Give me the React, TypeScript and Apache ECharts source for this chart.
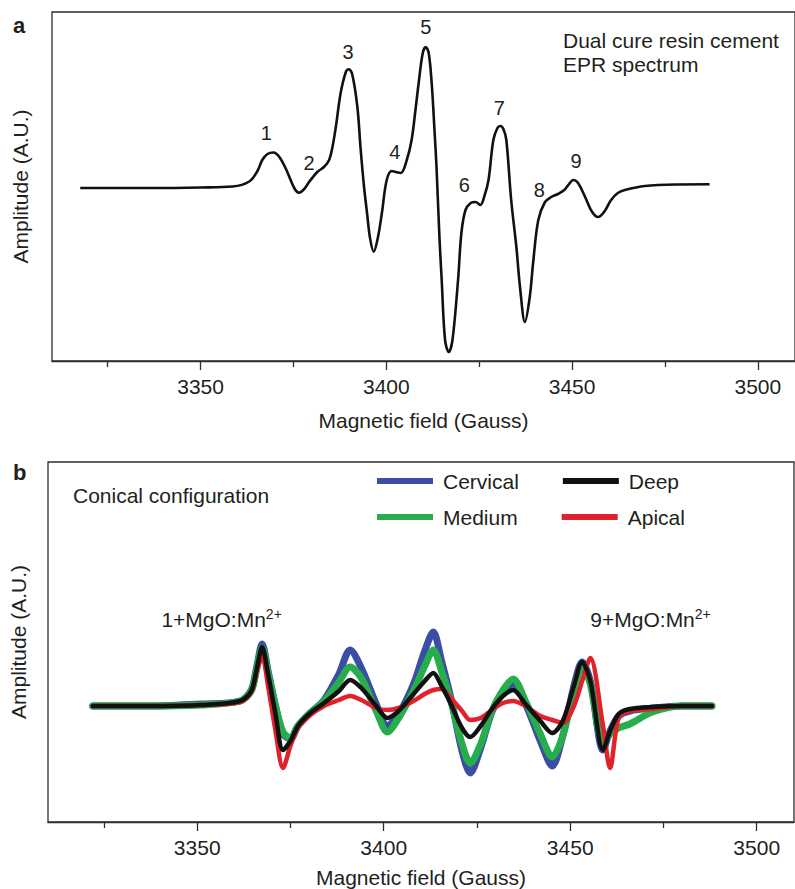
import { useEffect, useRef } from "react";
import * as echarts from "echarts";

const FONT = '"Liberation Sans", Arial, Helvetica, sans-serif';
const INK = "#231f20";
const FRAME = "#2e2e2e";

// ---------- Panel a: dual cure resin cement EPR spectrum ----------
const fieldA = [
  3317.6, 3336.3, 3350.0, 3358.6, 3363.1, 3365.3, 3366.6, 3368.0, 3369.6, 3371.2,
  3373.1, 3375.2, 3376.5, 3377.9, 3379.2, 3381.4, 3383.2, 3384.6, 3385.5, 3386.4,
  3387.7, 3389.1, 3389.9, 3390.8, 3392.2, 3393.1, 3394.0, 3394.8, 3395.6, 3396.6,
  3397.7, 3398.8, 3400.1, 3401.5, 3402.5, 3403.9, 3405.5, 3406.8, 3407.9, 3408.7,
  3409.8, 3410.6, 3411.4, 3412.2, 3413.0, 3413.5, 3414.3, 3414.9, 3415.8, 3416.8,
  3417.8, 3419.3, 3420.2, 3421.3, 3422.7, 3424.0, 3425.3, 3426.4, 3427.5, 3428.8,
  3429.9, 3430.7, 3431.5, 3432.3, 3433.6, 3435.0, 3436.0, 3437.3, 3438.6, 3439.5,
  3440.9, 3442.7, 3444.4, 3446.2, 3447.9, 3449.2, 3450.3, 3451.6, 3453.5, 3455.4,
  3457.0, 3458.6, 3460.5, 3462.3, 3464.2, 3469.6, 3478.4, 3487.0,
];
const ampA = [
  0, 0, 0.5, 1.5, 6.5, 17, 28, 34, 35.5, 31,
  18, 0, -4.7, -1, 6, 16, 21, 28, 41, 61,
  95, 116, 118.7, 114, 81, 38, 1, -25, -50, -63.7,
  -50, -25, 8, 17, 16, 15, 28, 48, 80, 105,
  135, 141, 135, 105, 55, 21, -50, -92, -152, -164,
  -152, -92, -45, -22, -15, -14, -17, -8, 8, 48,
  60, 62, 59, 48, -12, -59, -100, -134, -109, -75,
  -32, -14, -9, -6, -2, 4, 8, 5, -9, -24,
  -29, -24, -12, -5, -2, 2, 3.5, 3.7,
];
const peakLabelField = [3367.7, 3379.2, 3389.7, 3402.3, 3410.6, 3421.0, 3430.4, 3441.2, 3451.1];
const peakLabelAmp = [55, 25, 136, 36, 161, 3, 80, -2, 27];
const peakLabelText = ["1", "2", "3", "4", "5", "6", "7", "8", "9"];

// ---------- Panel b: conical configuration ----------
const fieldB = [
  3322, 3337, 3351, 3361.5, 3364.5, 3366, 3367.4, 3369, 3371, 3373,
  3375, 3377, 3380, 3384, 3388, 3391, 3394, 3398, 3401, 3404,
  3408, 3411, 3413.3, 3415.5, 3418, 3421, 3423.2, 3426, 3429, 3432,
  3434.7, 3438, 3442, 3445.2, 3448, 3451, 3453.2, 3455.4, 3458.8, 3460.7,
  3463, 3466, 3472, 3480, 3488,
];
const cervical = [
  0, 0, 2, 5, 16, 40, 62, 35, 0, -28,
  -33, -20, -8, 6, 32, 56, 38, 2, -20, -8,
  22, 55, 74, 45, 8, -45, -67, -42, -6, 14,
  22, 2, -35, -60, -30, 20, 44, 25, -44, -25,
  -10, -5, -2, 0, 0,
];
const medium = [
  0, 0, 1, 5, 15, 38, 58, 33, 0, -26,
  -32, -20, -8, 5, 24, 39, 28, -5, -26, -12,
  15, 40, 56, 35, 5, -38, -57, -38, -5, 16,
  27, 5, -28, -51, -30, 15, 39, 22, -37, -28,
  -22, -18, -6, 0, 0,
];
const deep = [
  0, 0, 1, 5, 15, 38, 59, 32, -8, -44,
  -35, -20, -8, 3, 15, 26, 18, 0, -12, -5,
  12, 25, 33, 20, 2, -22, -31, -20, -3, 10,
  16, 2, -15, -27, -15, 20, 44, 25, -44, -25,
  -8, -3, -1, 0, 0,
];
const apical = [
  0, 0, 1, 4, 14, 35, 50, 20, -25, -62,
  -40, -22, -10, 0, 6, 10, 6, -2, -4, -2,
  5, 12, 16, 17, 8, -5, -14, -12, -4, 3,
  5, 0, -10, -14, -17, 0, 25, 48, -20, -62,
  -12, -5, -3, 0, 0,
];
const annotationField = [3340.4, 3455.4];
const annotationAmp = [87, 87];
const annotationText = ["1+MgO:Mn", "9+MgO:Mn"];

// ---------- Axes ----------
const fieldMin = 3310;
const fieldMax = 3510;
const majorTicks = [3350, 3400, 3450, 3500];
const minorTicks = [3325, 3375, 3425, 3475];

const mainX = (gridIndex: number, nameGap: number) => ({
  gridIndex,
  type: "value",
  min: fieldMin,
  max: fieldMax,
  position: "bottom",
  axisLine: { show: true, onZero: false, lineStyle: { color: FRAME, width: 1.3 } },
  axisTick: { show: true, customValues: majorTicks, length: 9, lineStyle: { color: FRAME, width: 1.3 } },
  axisLabel: {
    show: true,
    customValues: majorTicks,
    formatter: (v: number) => String(v),
    fontSize: 21,
    fontFamily: FONT,
    color: INK,
    margin: 15,
  },
  splitLine: { show: false },
  name: "Magnetic field (Gauss)",
  nameLocation: "middle",
  nameGap,
  nameTextStyle: { fontSize: 21, fontFamily: FONT, color: INK },
});
const minorX = (gridIndex: number) => ({
  gridIndex,
  type: "value",
  min: fieldMin,
  max: fieldMax,
  position: "bottom",
  axisLine: { show: false, onZero: false },
  axisTick: { show: true, customValues: minorTicks, length: 6, lineStyle: { color: FRAME, width: 1.3 } },
  axisLabel: { show: false },
  splitLine: { show: false },
});
const yAx = (gridIndex: number, min: number, max: number, nameGap: number) => ({
  gridIndex,
  type: "value",
  min,
  max,
  axisLine: { show: false, onZero: false },
  axisTick: { show: false },
  axisLabel: { show: false },
  splitLine: { show: false },
  name: "Amplitude (A.U.)",
  nameLocation: "middle",
  nameRotate: 90,
  nameGap,
  nameTextStyle: { fontSize: 21, fontFamily: FONT, color: INK },
});

const traceB = (name: string, values: number[], color: string, width: number) => ({
  name,
  type: "line",
  xAxisIndex: 2,
  yAxisIndex: 1,
  data: fieldB.map((x, i) => [x, values[i]]),
  smooth: 0.3,
  showSymbol: false,
  symbol: "none",
  color,
  lineStyle: { color, width, join: "round", cap: "round" },
  silent: true,
});

const legendBase = {
  orient: "horizontal",
  left: 377,
  padding: 0,
  itemWidth: 56,
  itemHeight: 6,
  itemGap: 44,
  icon: "rect",
  selectedMode: false,
  textStyle: { fontSize: 21, fontFamily: FONT, color: INK, lineHeight: 24, padding: [0, 0, 0, 5] },
};

const textEl = (text: string, x: number, y: number, font: string) => ({
  type: "text",
  x,
  y,
  silent: true,
  style: {
    text,
    font,
    fill: INK,
    textAlign: "left",
    textVerticalAlign: "middle",
    align: "left",
    verticalAlign: "middle",
  },
});

export default function App() {
  const ref = useRef<HTMLDivElement>(null);
  useEffect(() => {
    if (!ref.current) return;
    const chart = echarts.init(ref.current, undefined, { renderer: "svg" });
    const option: any = {
      animation: false,
      backgroundColor: "#ffffff",
      textStyle: { fontFamily: FONT },
      grid: [
        { left: 52, top: 12, width: 746, height: 349, show: true, borderColor: FRAME, borderWidth: 1.3, backgroundColor: "transparent" },
        { left: 48, top: 462, width: 746, height: 360, show: true, borderColor: FRAME, borderWidth: 1.3, backgroundColor: "transparent" },
      ],
      xAxis: [mainX(0, 49), minorX(0), mainX(1, 45), minorX(1)],
      yAxis: [yAx(0, -173, 176, 21), yAx(1, -116, 244, 19)],
      legend: [
        { ...legendBase, top: 469, data: ["Cervical", "Deep"] },
        { ...legendBase, top: 505, data: ["Medium", "Apical"] },
      ],
      graphic: [
        textEl("a", 13, 25.5, `bold 22px ${FONT}`),
        textEl("b", 13, 472, `bold 22px ${FONT}`),
        textEl("Dual cure resin cement", 563, 40.3, `21px ${FONT}`),
        textEl("EPR spectrum", 563, 64.3, `21px ${FONT}`),
        textEl("Conical configuration", 73, 495.3, `21px ${FONT}`),
      ],
      series: [
        {
          name: "EPR",
          type: "line",
          xAxisIndex: 0,
          yAxisIndex: 0,
          data: fieldA.map((x, i) => [x, ampA[i]]),
          smooth: 0.35,
          showSymbol: false,
          symbol: "none",
          lineStyle: { color: "#111111", width: 2.6 },
          silent: true,
        },
        {
          name: "peakLabels",
          type: "scatter",
          xAxisIndex: 0,
          yAxisIndex: 0,
          symbolSize: 0,
          itemStyle: { color: INK, opacity: 1 },
          data: peakLabelField.map((x, i) => [x, peakLabelAmp[i], peakLabelText[i]]),
          label: {
            show: true,
            position: "inside",
            formatter: (p: any) => p.data[2],
            fontSize: 20,
            fontFamily: FONT,
            color: INK,
            opacity: 1,
            textBorderWidth: 0,
          },
          silent: true,
        },
        traceB("Cervical", cervical, "#3a4ea3", 7),
        traceB("Medium", medium, "#27ad4b", 7),
        traceB("Apical", apical, "#e0232b", 4.5),
        traceB("Deep", deep, "#111111", 4.5),
        {
          name: "annotations",
          type: "scatter",
          xAxisIndex: 2,
          yAxisIndex: 1,
          symbolSize: 0,
          itemStyle: { color: INK, opacity: 1 },
          data: annotationField.map((x, i) => [x, annotationAmp[i], annotationText[i]]),
          label: {
            show: true,
            position: "right",
            distance: 0,
            opacity: 1,
            color: INK,
            formatter: (p: any) => `{n|${p.data[2]}}{s|2+}`,
            rich: {
              n: { fontSize: 21, fontFamily: FONT, color: INK, lineHeight: 24 },
              s: { fontSize: 14, fontFamily: FONT, color: INK, lineHeight: 14, verticalAlign: "top" },
            },
          },
          silent: true,
        },
      ],
    };
    chart.setOption(option);
    return () => chart.dispose();
  }, []);
  return (
    <div
      ref={ref}
      style={{ position: "fixed", left: 0, top: 0, width: 795, height: 889, background: "#fff" }}
    />
  );
}
